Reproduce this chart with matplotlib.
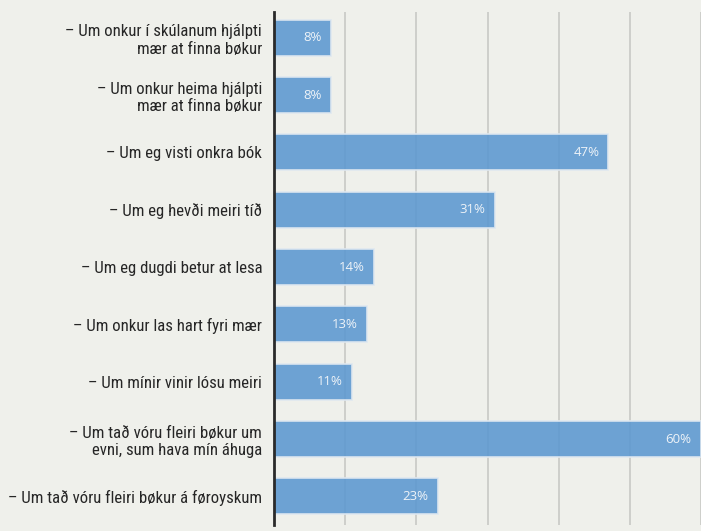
import matplotlib.pyplot as plt
from matplotlib import font_manager

labels = [
    "– Um onkur í skúlanum hjálpti\nmær at finna bøkur",
    "– Um onkur heima hjálpti\nmær at finna bøkur",
    "– Um eg visti onkra bók",
    "– Um eg hevði meiri tíð",
    "– Um eg dugdi betur at lesa",
    "– Um onkur las hart fyri mær",
    "– Um mínir vinir lósu meiri",
    "– Um tað vóru fleiri bøkur um\nevni, sum hava mín áhuga",
    "– Um tað vóru fleiri bøkur á føroyskum",
]
values = [8, 8, 47, 31, 14, 13, 11, 60, 23]
ticks = [0, 10, 20, 30, 40, 50, 60]

names = {f.name for f in font_manager.fontManager.ttflist}
label_font, label_size = "Roboto", 10
for cand in ["Roboto Condensed", "Liberation Sans Narrow", "Open Sans Condensed"]:
    if cand in names:
        label_font, label_size = cand, 12.1
        break

bg = "#eff0eb"
fig = plt.figure(figsize=(7.01, 5.31), dpi=100, facecolor=bg)
ax = fig.add_axes([274 / 701, 6 / 531, 1 - 274 / 701, 513 / 531], facecolor=bg)

y = list(range(len(values)))
ax.barh(y, values, height=0.63, color="#5b98d0", alpha=0.88,
        edgecolor="#dfe8f0", linewidth=1.3, zorder=2)

for yi, v in zip(y, values):
    ax.text(v - 1.3, yi, f"{v}%", ha="right", va="center", color="#eef3f8",
            fontsize=9.5, family="Open Sans", zorder=3)

ax.set_xlim(0, 60)
ax.set_ylim(8.5, -0.45)
ax.set_xticks(ticks)
ax.set_xticklabels([])
ax.grid(axis="x", color="#c8c9c5", linewidth=1.2, zorder=1)
ax.tick_params(length=0)
ax.set_yticks(y)
ax.set_yticklabels(labels, fontsize=label_size, family=label_font, color="#262626",
                   linespacing=1.2)
ax.tick_params(axis="y", pad=8.5)
for s in ["top", "right", "bottom"]:
    ax.spines[s].set_visible(False)
ax.spines["left"].set_color("#2a2a2a")
ax.spines["left"].set_linewidth(2)
ax.spines["left"].set_zorder(4)

fig.savefig("out.png", dpi=100, facecolor=bg)
